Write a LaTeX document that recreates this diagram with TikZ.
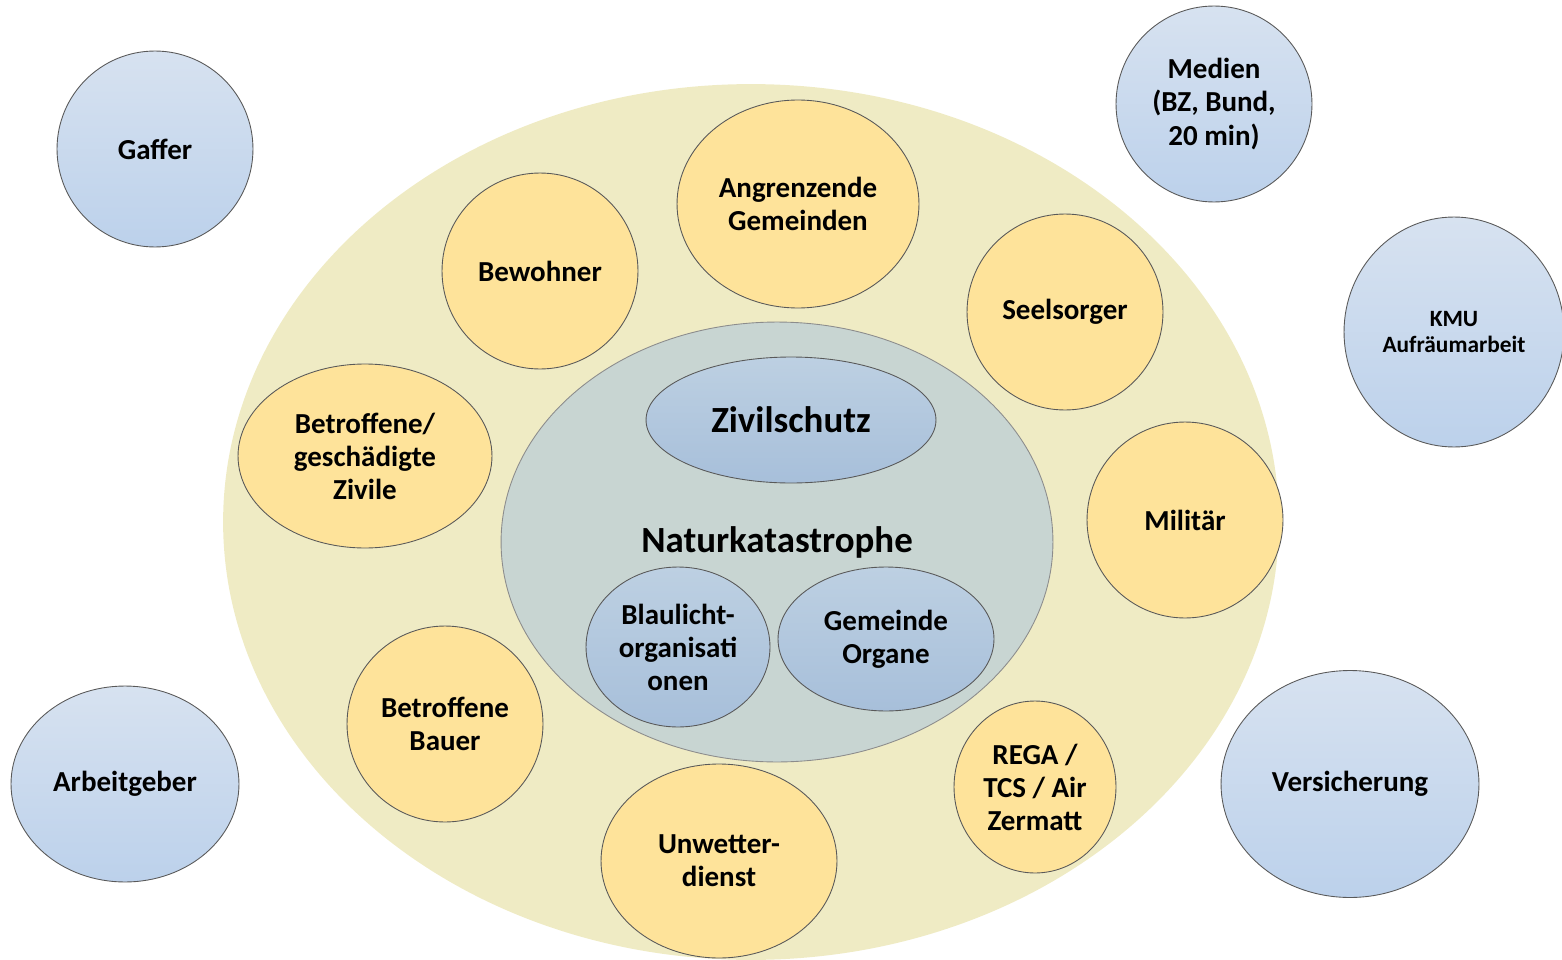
\documentclass[tikz,border=0pt]{standalone}
\usepackage{fontspec}
\setmainfont{Carlito}
\usetikzlibrary{shapes.geometric}
\definecolor{umfeldgelb}{HTML}{EFEBC4}
\definecolor{kreisgelb}{HTML}{FEE39A}
\definecolor{innengrau}{HTML}{C8D5D2}
\definecolor{blauoben}{HTML}{D7E2F0}
\definecolor{blauunten}{HTML}{BCD1EB}
\definecolor{kernoben}{HTML}{BDD0E2}
\definecolor{kernunten}{HTML}{A7BFDA}
\begin{document}
\begin{tikzpicture}[
        x = 0.02cm,
        y = -0.02cm,
        every node/.style={
          align = center,
          inner sep = 0pt,
          font = \bfseries\fontsize{16.5}{18.8}\selectfont,
        },
        bubble/.style={
          ellipse,
          draw = black!65,
          line width = 0.5pt,
        },
        gelb/.style={
          bubble,
          fill = kreisgelb,
        },
        blau/.style={
          bubble,
          top color = blauoben,
          bottom color = blauunten,
        },
        kern/.style={
          bubble,
          top color = kernoben,
          bottom color = kernunten,
        },
        gross/.style={
          font = \bfseries\fontsize{21}{24}\selectfont,
        },
        ]
        \useasboundingbox (0,0) rectangle (1562,960);
        \clip (0,0) rectangle (1562,960);
        \node [ellipse, fill=umfeldgelb, minimum width=21.12cm, minimum height=17.52cm] (umfeld) at (751,522) {};
        \node [bubble, fill=innengrau, draw=black!45, minimum width=11.04cm, minimum height=8.8cm, gross] (natur) at (777,542) {Naturkatastrophe};
        \node [kern, gross, minimum width=5.8cm, minimum height=2.52cm] (zivilschutz) at (791,420) {Zivilschutz};
        \node [kern, minimum width=3.68cm, minimum height=3.2cm] (blaulicht) at (678,647) {Blaulicht-\\organisati\\onen};
        \node [kern, minimum width=4.32cm, minimum height=2.88cm] (gemeinde) at (886,639) {Gemeinde\\Organe};
        \node [gelb, minimum width=3.92cm, minimum height=3.92cm] (bewohner) at (540,271) {Bewohner};
        \node [gelb, minimum width=4.84cm, minimum height=4.16cm] (angrenzende) at (798,204) {Angrenzende\\Gemeinden};
        \node [gelb, minimum width=3.92cm, minimum height=3.92cm] (seelsorger) at (1065,312) {Seelsorger};
        \node [gelb, minimum width=5.08cm, minimum height=3.68cm] (zivile) at (365,456) {Betroffene/\\geschädigte\\Zivile};
        \node [gelb, minimum width=3.92cm, minimum height=3.92cm] (militaer) at (1185,520) {Militär};
        \node [gelb, minimum width=3.92cm, minimum height=3.92cm] (bauer) at (445,724) {Betroffene\\Bauer};
        \node [gelb, minimum width=4.72cm, minimum height=3.88cm] (unwetter) at (719,861) {Unwetter-\\dienst};
        \node [gelb, minimum width=3.24cm, minimum height=3.44cm] (rega) at (1035,787) {REGA /\\TCS / Air\\Zermatt};
        \node [blau, minimum width=3.92cm, minimum height=3.92cm] (gaffer) at (155,149) {Gaffer};
        \node [blau, minimum width=3.92cm, minimum height=3.92cm] (medien) at (1214,104) {Medien\\(BZ, Bund,\\20 min)};
        \node [blau, minimum width=4.4cm, minimum height=4.6cm, font=\bfseries\fontsize{13.3}{15}\selectfont] (kmu) at (1454,332) {KMU\\Aufräumarbeit};
        \node [blau, minimum width=4.56cm, minimum height=3.92cm] (arbeitgeber) at (125,784) {Arbeitgeber};
        \node [blau, minimum width=5.16cm, minimum height=4.54cm] (versicherung) at (1350,784) {Versicherung};
      \end{tikzpicture}
\end{document}
